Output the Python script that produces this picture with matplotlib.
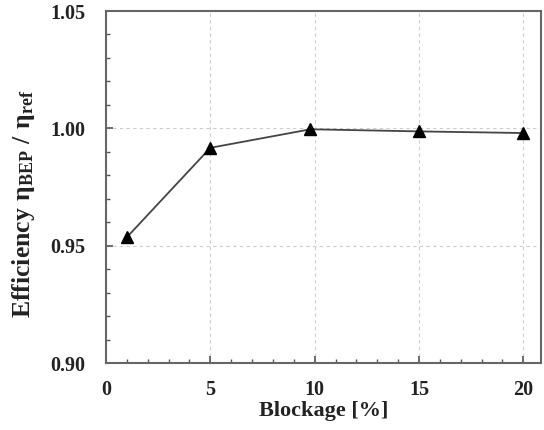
import matplotlib
matplotlib.use("Agg")
import matplotlib.pyplot as plt
from matplotlib.ticker import MultipleLocator

plt.rcParams['font.family'] = ['Liberation Serif', 'DejaVu Serif']
plt.rcParams['mathtext.fontset'] = 'custom'
plt.rcParams['mathtext.rm'] = 'Liberation Serif:bold'
plt.rcParams['mathtext.bf'] = 'Liberation Serif:bold'
plt.rcParams['mathtext.it'] = 'Liberation Serif:bold'

blockage = [1, 5, 9.8, 15, 20]
efficiency = [0.9536, 0.9917, 0.9996, 0.9987, 0.998]

fig = plt.figure(figsize=(5.44, 4.30), dpi=100)
ax = fig.add_axes([0.1949, 0.1558, 0.7996, 0.8186])

ax.plot(blockage, efficiency, color='#444444', lw=1.3, marker='^',
        markersize=9, markerfacecolor='black', markeredgecolor='black', zorder=3)

ax.set_xlim(0, 20.85)
ax.set_ylim(0.90, 1.05)
ax.xaxis.set_major_locator(MultipleLocator(5))
ax.xaxis.set_minor_locator(MultipleLocator(1))
ax.yaxis.set_major_locator(MultipleLocator(0.05))
ax.yaxis.set_minor_locator(MultipleLocator(0.01))
ax.yaxis.set_major_formatter(plt.FormatStrFormatter('%.2f'))

ax.grid(True, which='major', color='#cccccc', ls=(0, (3, 3)), lw=0.8)
ax.tick_params(which='both', direction='in', colors='#555555', labelcolor='#222222',
               labelsize=14.5)
ax.tick_params(which='major', length=5, width=1.2)
ax.tick_params(which='minor', length=3, width=1.0)
ax.tick_params(axis='x', pad=12)
ax.tick_params(axis='y', pad=15)
for lab in ax.get_xticklabels() + ax.get_yticklabels():
    lab.set_fontweight('bold')
for s in ax.spines.values():
    s.set_color('#666666')
    s.set_linewidth(1.5)

ax.set_xlabel('Blockage [%]', fontsize=16, fontweight='bold', color='#222222', labelpad=1)
ax.set_ylabel(r'$\mathrm{Efficiency\ \eta_{BEP}\ /\ \eta_{ref}}$', fontsize=18.5,
              color='#222222')
ax.yaxis.set_label_coords(-0.158, 0.452)

fig.savefig('out.png', dpi=100)
